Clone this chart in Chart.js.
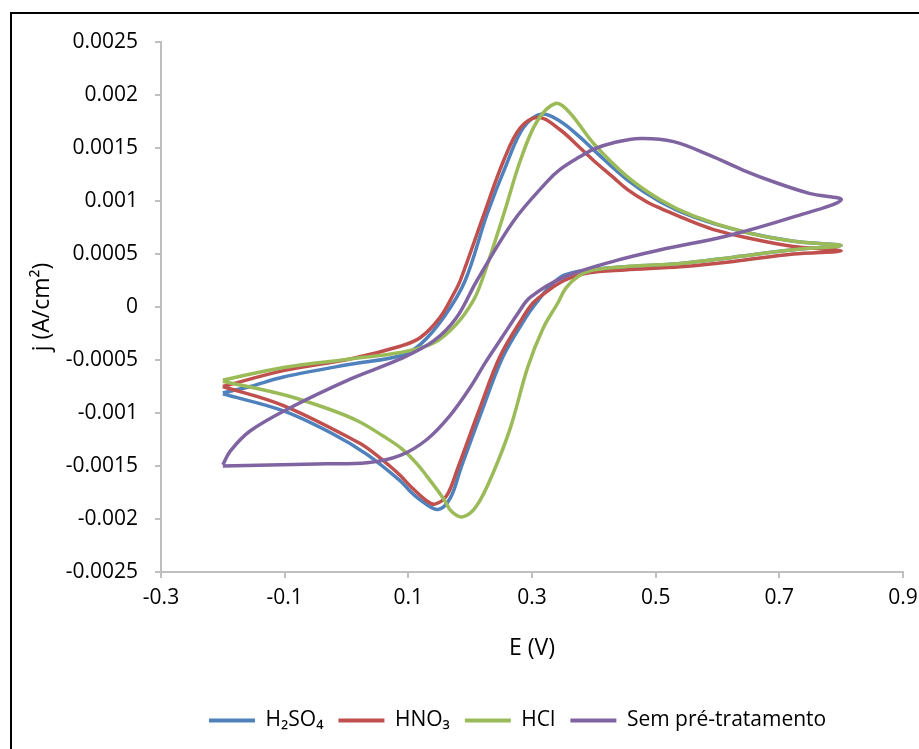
<!DOCTYPE html>
<html>
<head>
<meta charset="utf-8">
<script src="https://cdn.jsdelivr.net/npm/chart.js@4.4.1/dist/chart.umd.min.js"></script>
<style>
  html, body { margin: 0; padding: 0; background: #fff; }
  #wrap { width: 919px; height: 749px; }
</style>
</head>
<body>
<div id="wrap"><canvas id="cv" width="919" height="749"></canvas></div>
<script>
// series names
const seriesNames = ['H₂SO₄', 'HNO₃', 'HCl', 'Sem pré-tratamento'];
const seriesColors = ['#4F81BD', '#C0504D', '#9BBB59', '#8064A2'];

// E (V) and j (A/cm²), read along the cycle: -0.2 -> 0.8 -> -0.2
const h2so4E = [-0.2, -0.156, -0.102, 0.006, 0.087, 0.12, 0.157, 0.192, 0.227, 0.259, 0.286, 0.316, 0.346, 0.378, 0.4, 0.454, 0.508, 0.561, 0.642, 0.723, 0.8,
  0.723, 0.626, 0.54, 0.45, 0.39, 0.352, 0.33, 0.307, 0.29, 0.253, 0.219, 0.185, 0.168, 0.148, 0.124, 0.105, 0.087, 0.033, -0.021, -0.102, -0.2];
const h2so4J = [-0.00081, -0.00075, -0.00066, -0.00054, -0.00046, -0.00035, -0.0001, 0.00025, 0.00087, 0.00135, 0.00169, 0.00182, 0.00175, 0.0016, 0.00148, 0.0012, 0.00099, 0.00085, 0.00071, 0.00062, 0.00058,
  0.00054, 0.00047, 0.00041, 0.00038, 0.00035, 0.0003, 0.0002, 0.00004, -0.0001, -0.00047, -0.00098, -0.00152, -0.0018, -0.00191, -0.00184, -0.00175, -0.00164, -0.00139, -0.0012, -0.00098, -0.00082];

const hno3E = [-0.2, -0.102, 0.006, 0.087, 0.119, 0.151, 0.173, 0.184, 0.222, 0.254, 0.281, 0.311, 0.346, 0.378, 0.4, 0.432, 0.454, 0.486, 0.508, 0.54, 0.561, 0.6, 0.642, 0.723, 0.8,
  0.723, 0.626, 0.54, 0.45, 0.39, 0.352, 0.325, 0.302, 0.285, 0.248, 0.214, 0.18, 0.162, 0.143, 0.13, 0.105, 0.087, 0.07, 0.045, 0.02, -0.102, -0.2];
const hno3J = [-0.00075, -0.0006, -0.00049, -0.00037, -0.00029, -0.0001, 0.00012, 0.00025, 0.00087, 0.00138, 0.00169, 0.00179, 0.00167, 0.0015, 0.00138, 0.00122, 0.00111, 0.00099, 0.00093, 0.00085, 0.0008, 0.00072, 0.00066, 0.00057, 0.00053,
  0.0005, 0.00043, 0.00038, 0.00035, 0.00032, 0.00025, 0.00015, 0.00004, -0.0001, -0.00047, -0.00098, -0.00152, -0.00178, -0.00186, -0.00183, -0.0017, -0.00159, -0.0015, -0.00138, -0.00128, -0.00093, -0.00075];

const hclE = [-0.2, -0.102, 0.006, 0.087, 0.141, 0.178, 0.205, 0.219, 0.254, 0.281, 0.308, 0.338, 0.36, 0.4, 0.454, 0.508, 0.561, 0.642, 0.723, 0.8,
  0.723, 0.626, 0.54, 0.45, 0.4, 0.375, 0.355, 0.342, 0.318, 0.293, 0.265, 0.236, 0.21, 0.188, 0.17, 0.157, 0.137, 0.114, 0.09, 0.06, 0.02, -0.03, -0.1, -0.2];
const hclJ = [-0.00069, -0.00057, -0.00049, -0.00043, -0.00034, -0.00016, 0.00006, 0.00025, 0.00087, 0.00138, 0.00175, 0.00192, 0.00184, 0.00154, 0.00123, 0.00101, 0.00086, 0.00071, 0.00062, 0.00058,
  0.00054, 0.00047, 0.00041, 0.00038, 0.00035, 0.00029, 0.00018, 0.00004, -0.0002, -0.00057, -0.00114, -0.00158, -0.00188, -0.00198, -0.00193, -0.00181, -0.00165, -0.00148, -0.00134, -0.00122, -0.00108, -0.00096, -0.00083, -0.0007];

const semE = [-0.2, -0.188, -0.156, -0.091, 0.006, 0.087, 0.141, 0.178, 0.211, 0.27, 0.324, 0.346, 0.378, 0.4, 0.432, 0.475, 0.529, 0.588, 0.642, 0.696, 0.75, 0.8,
  0.723, 0.615, 0.508, 0.437, 0.351, 0.297, 0.276, 0.25, 0.225, 0.2, 0.168, 0.13, 0.087, 0.033, -0.048, -0.2];
const semJ = [-0.00149, -0.00136, -0.00117, -0.00095, -0.00068, -0.00049, -0.00032, -0.0001, 0.00025, 0.00081, 0.00118, 0.0013, 0.00142, 0.00149, 0.00155, 0.00159, 0.00156, 0.00143, 0.00129, 0.00117, 0.00107, 0.00101,
  0.00085, 0.00067, 0.00054, 0.00044, 0.00028, 0.00009, -0.00007, -0.0003, -0.00052, -0.00076, -0.00102, -0.00125, -0.0014, -0.00147, -0.00148, -0.0015];

// axis ranges
const xMin = -0.3, xMax = 0.9, xStep = 0.2;
const yMin = -0.0025, yMax = 0.0025, yStep = 0.0005;

const toPoints = (es, js) => es.map((e, i) => ({ x: e, y: js[i] }));
const allE = [h2so4E, hno3E, hclE, semE];
const allJ = [h2so4J, hno3J, hclJ, semJ];

const FONT = "'Open Sans', sans-serif";
const LEGEND_START = 209;

const frame = {
  id: 'frame',
  afterLayout(chart) {
    // move the legend row so it starts where the reference has it
    const lg = chart.legend;
    if (!lg || !lg.lineWidths) return;
    const pad = lg.options.labels.padding;
    const start = (lg.left + pad + lg.right - lg.lineWidths[0]) / 2;
    const d = LEGEND_START - start;
    lg.left += d;
    lg.right += d;
  },
  afterDraw(chart) {
    const c = chart.ctx;
    c.save();
    c.strokeStyle = '#000';
    c.lineWidth = 2;
    c.strokeRect(11, 13, 1000, 1000);
    c.restore();
  }
};

new Chart(document.getElementById('cv'), {
  type: 'scatter',
  data: {
    datasets: seriesNames.map((name, i) => ({
      label: name,
      data: toPoints(allE[i], allJ[i]),
      showLine: true,
      borderColor: seriesColors[i],
      backgroundColor: seriesColors[i],
      borderWidth: 3.5,
      pointRadius: 0,
      tension: 0.35,
      order: seriesNames.length - i
    }))
  },
  options: {
    responsive: false,
    animation: false,
    devicePixelRatio: 1,
    layout: { padding: { left: 0, top: 42, right: 16, bottom: 8 } },
    scales: {
      x: {
        type: 'linear',
        min: xMin, max: xMax,
        afterFit: (s) => { s.height = 123; s.paddingLeft = 0; s.paddingRight = 0; },
        ticks: {
          stepSize: xStep,
          padding: 7,
          color: '#000',
          font: { family: FONT, size: 21 },
          callback: (v) => String(Number(v.toFixed(1)))
        },
        grid: { drawOnChartArea: false, drawTicks: true, tickLength: 6, color: '#BFBFBF', lineWidth: 2 },
        border: { color: '#BFBFBF', width: 2 },
        title: { display: true, text: 'E (V)', color: '#000', font: { family: FONT, size: 23 }, padding: { top: 0, bottom: 33 } }
      },
      y: {
        type: 'linear',
        min: yMin, max: yMax,
        afterFit: (s) => { s.width = 161; },
        ticks: {
          stepSize: yStep,
          padding: 17,
          color: '#000',
          font: { family: FONT, size: 21 },
          callback: (v) => String(Number(v.toFixed(4)))
        },
        grid: { drawOnChartArea: false, drawTicks: true, tickLength: 6, color: '#BFBFBF', lineWidth: 2 },
        border: { color: '#BFBFBF', width: 2 },
        title: { display: true, text: 'j (A/cm²)', color: '#000', font: { family: FONT, size: 23 }, padding: { top: 29, bottom: 0 } }
      }
    },
    plugins: {
      legend: {
        position: 'bottom',
        labels: {
          boxWidth: 46,
          boxHeight: 4,
          padding: 15,
          color: '#000',
          font: { family: FONT, size: 21 },
          generateLabels: (chart) =>
            Chart.defaults.plugins.legend.labels.generateLabels(chart).map(l => ({ ...l, lineWidth: 0 })),
          sort: (a, b) => a.datasetIndex - b.datasetIndex
        }
      },
      tooltip: { enabled: false }
    }
  },
  plugins: [frame]
});
</script>
</body>
</html>
